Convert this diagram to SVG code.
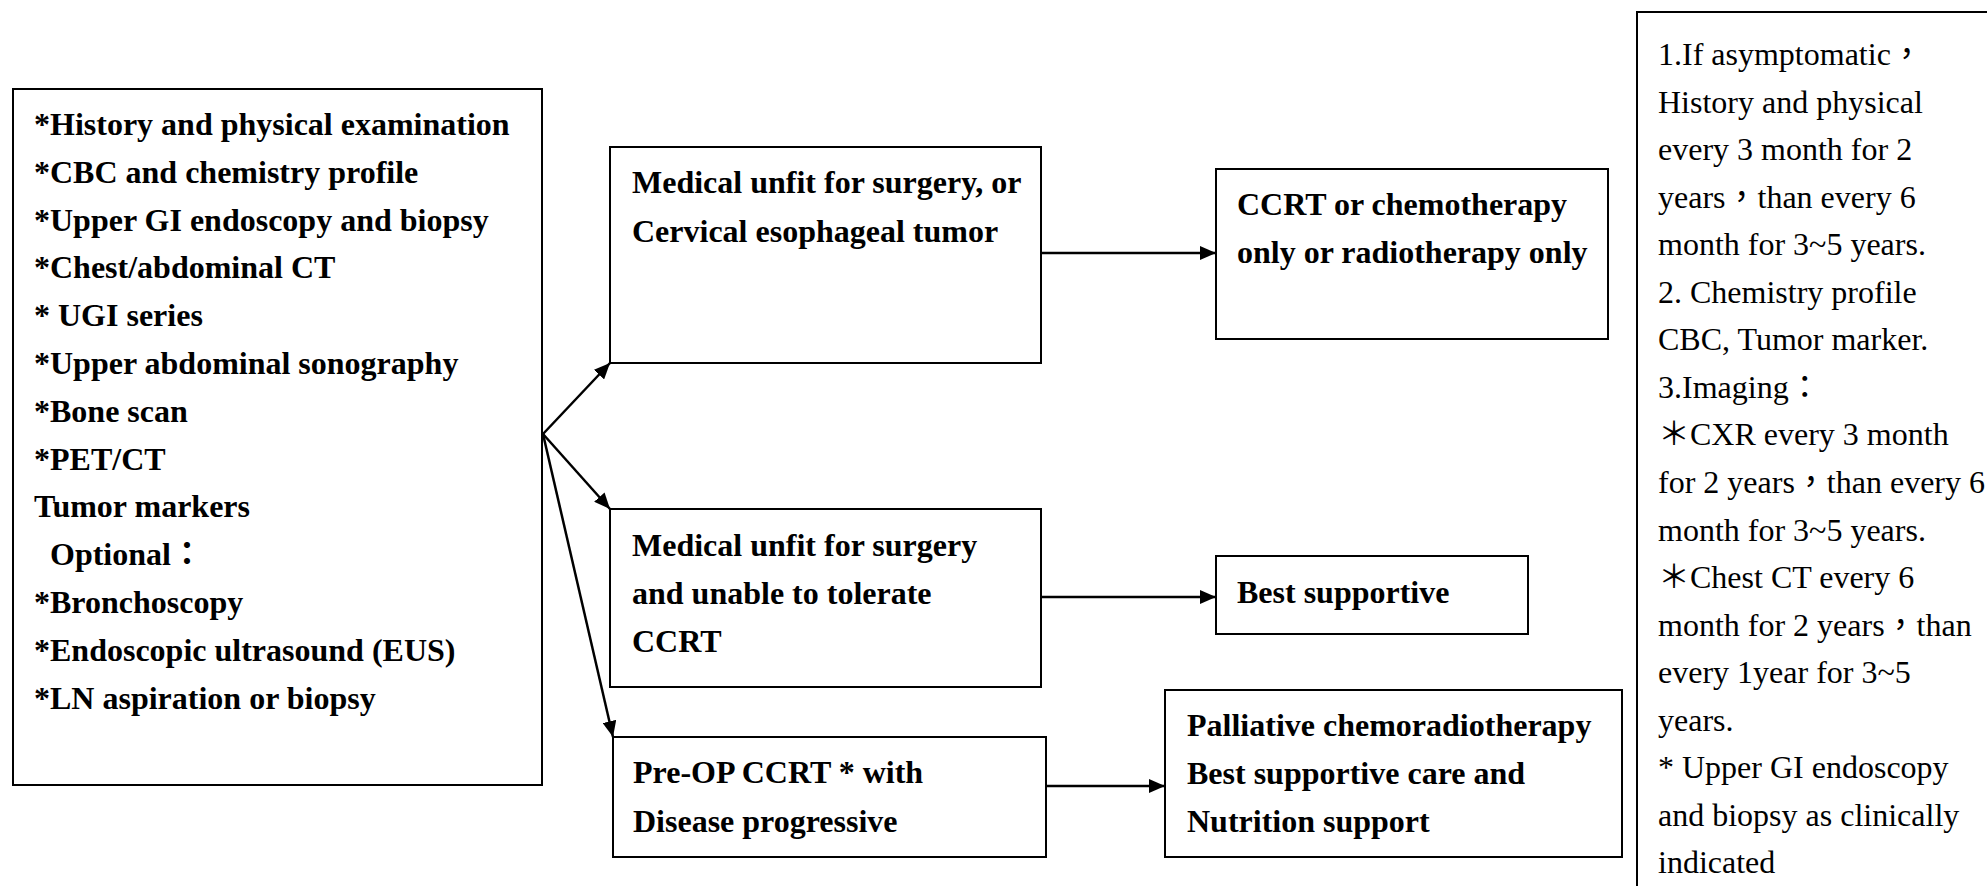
<svg xmlns="http://www.w3.org/2000/svg" width="1987" height="886" viewBox="0 0 1987 886">
<defs>
<style>
.box{fill:#fff;stroke:#000;stroke-width:2}
.b{font-family:"Liberation Serif","Noto Sans CJK TC",serif;font-size:32px;font-weight:bold;fill:#000}
.r{font-family:"Liberation Serif","Noto Sans CJK TC",serif;font-size:32px;fill:#000}
.c{stroke:#000;stroke-width:2.5;fill:none;marker-end:url(#ah)}
</style>
<marker id="ah" markerUnits="userSpaceOnUse" markerWidth="16" markerHeight="14" refX="16" refY="7" orient="auto">
<path d="M0,0 L16,7 L0,14 z" fill="#000"/>
</marker>
</defs>
<rect width="1987" height="886" fill="#fff"/>
<g id="workup">
<rect class="box" x="13" y="89" width="529" height="696"/>
<text class="b" x="34" y="135">*History and physical examination</text>
<text class="b" x="34" y="183">*CBC and chemistry profile</text>
<text class="b" x="34" y="231">*Upper GI endoscopy and biopsy</text>
<text class="b" x="34" y="278">*Chest/abdominal CT</text>
<text class="b" x="34" y="326">* UGI series</text>
<text class="b" x="34" y="374">*Upper abdominal sonography</text>
<text class="b" x="34" y="422">*Bone scan</text>
<text class="b" x="34" y="470">*PET/CT</text>
<text class="b" x="34" y="517">Tumor markers</text>
<text class="b" x="50" y="565">Optional：</text>
<text class="b" x="34" y="613">*Bronchoscopy</text>
<text class="b" x="34" y="661">*Endoscopic ultrasound (EUS)</text>
<text class="b" x="34" y="709">*LN aspiration or biopsy</text>
</g>
<g id="unfit">
<rect class="box" x="610" y="147" width="431" height="216"/>
<text class="b" x="632" y="193">Medical unfit for surgery, or</text>
<text class="b" x="632" y="242">Cervical esophageal tumor</text>
</g>
<g id="unfit-no-ccrt">
<rect class="box" x="610" y="509" width="431" height="178"/>
<text class="b" x="632" y="556">Medical unfit for surgery</text>
<text class="b" x="632" y="604">and unable to tolerate</text>
<text class="b" x="632" y="652">CCRT</text>
</g>
<g id="preop">
<rect class="box" x="613" y="737" width="433" height="120"/>
<text class="b" x="633" y="783">Pre-OP CCRT * with</text>
<text class="b" x="633" y="832">Disease progressive</text>
</g>
<g id="ccrt">
<rect class="box" x="1216" y="169" width="392" height="170"/>
<text class="b" x="1237" y="215">CCRT or chemotherapy</text>
<text class="b" x="1237" y="263">only or radiotherapy only</text>
</g>
<g id="best">
<rect class="box" x="1216" y="556" width="312" height="78"/>
<text class="b" x="1237" y="603">Best supportive</text>
</g>
<g id="palliative">
<rect class="box" x="1165" y="690" width="457" height="167"/>
<text class="b" x="1187" y="736">Palliative chemoradiotherapy</text>
<text class="b" x="1187" y="784">Best supportive care and</text>
<text class="b" x="1187" y="832">Nutrition support</text>
</g>
<g id="followup">
<rect class="box" x="1637" y="12" width="400" height="900"/>
<text class="r" x="1658" y="65">1.If asymptomatic，</text>
<text class="r" x="1658" y="113">History and physical</text>
<text class="r" x="1658" y="160">every 3 month for 2</text>
<text class="r" x="1658" y="208">years，than every 6</text>
<text class="r" x="1658" y="255">month for 3~5 years.</text>
<text class="r" x="1658" y="303">2. Chemistry profile</text>
<text class="r" x="1658" y="350">CBC, Tumor marker.</text>
<text class="r" x="1658" y="398">3.Imaging：</text>
<text class="r" x="1658" y="445">＊CXR every 3 month</text>
<text class="r" x="1658" y="493">for 2 years，than every 6</text>
<text class="r" x="1658" y="541">month for 3~5 years.</text>
<text class="r" x="1658" y="588">＊Chest CT every 6</text>
<text class="r" x="1658" y="636">month for 2 years，than</text>
<text class="r" x="1658" y="683">every 1year for 3~5</text>
<text class="r" x="1658" y="731">years.</text>
<text class="r" x="1658" y="778">* Upper GI endoscopy</text>
<text class="r" x="1658" y="826">and biopsy as clinically</text>
<text class="r" x="1658" y="873">indicated</text>
</g>
<g id="connectors">
<path class="c" d="M543,434 L610,363"/>
<path class="c" d="M543,434 L610,509"/>
<path class="c" d="M543,434 L613,737"/>
<path class="c" d="M1041,253 H1216"/>
<path class="c" d="M1041,597 H1216"/>
<path class="c" d="M1046,786 H1165"/>
</g>
</svg>
